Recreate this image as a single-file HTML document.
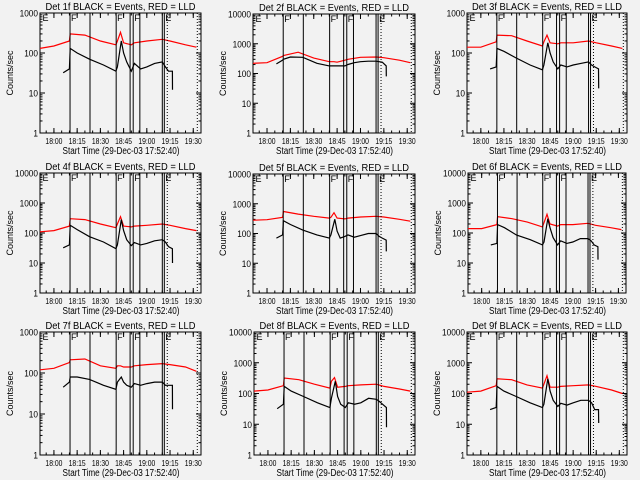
<!DOCTYPE html>
<html><head><meta charset="utf-8"><style>
html,body{margin:0;padding:0;background:#f2f2f2;}
svg{display:block;font-family:"Liberation Sans",sans-serif;}
</style></head><body>
<svg id="chart" width="640" height="480" viewBox="0 0 640 480" xmlns="http://www.w3.org/2000/svg">
<rect width="640" height="480" fill="#f2f2f2"/>
</svg>
<script>
const xTickMinutes = [0, 15, 30, 45, 60, 75, 90];
const xTickLabels = ["18:00", "18:15", "18:30", "18:45", "19:00", "19:15", "19:30"];
const solidLineTimes = [10.4, 23.3, 40.2, 49.2, 51.2, 55.5, 70, 71.3];
const dottedLineTimes = [73.2, 92.6];
const blackTimes = [6, 10, 10.5, 15, 23, 32, 40, 41, 43.5, 45, 47, 50, 52, 56, 60, 65, 70, 72, 74, 76.5, 76.6];
const redTimes = [-9, 0, 10, 10.5, 20, 30, 40, 41, 43, 45, 50, 52, 60, 70, 75, 85, 92];
const det1Black = [32,40,130,100,70,50,35,45,200,100,60,35,55,40,45,55,60,45,35,35,12];
const det1Red = [130,150,200,300,280,200,160,200,330,180,160,180,200,220,200,160,140];
const det2Black = [210,280,300,360,350,220,180,180,180,180,180,180,200,230,250,260,260,250,240,180,80];
const det2Red = [220,230,380,400,520,330,250,250,250,240,280,300,350,360,340,280,230];
const det3Black = [40,45,130,110,75,50,38,50,180,100,60,40,50,45,50,55,60,50,45,40,13];
const det3Red = [140,140,190,280,270,200,150,190,280,180,170,180,180,200,180,150,130];
const det4Black = [32,40,180,130,75,50,30,40,280,120,60,38,48,40,45,55,60,50,35,30,10];
const det4Red = [110,120,170,300,280,200,150,200,350,170,160,170,180,200,180,140,120];
const det5Black = [70,90,270,200,130,90,70,90,300,120,70,80,90,75,85,100,100,80,70,60,25];
const det5Red = [280,290,350,550,450,380,330,350,500,330,310,330,360,380,360,300,260];
const det6Black = [40,45,190,150,85,60,40,50,300,150,70,40,55,45,50,65,65,55,40,35,13];
const det6Red = [140,140,190,350,300,230,160,220,420,200,170,190,190,210,180,150,130];
const det7Black = [45,60,80,80,70,50,40,60,80,60,50,45,55,50,55,60,60,50,50,50,13];
const det7Red = [120,130,180,210,220,150,130,150,150,140,140,150,160,170,160,140,110];
const det8Black = [32,45,170,120,80,50,35,70,250,80,45,35,50,45,50,70,65,55,45,35,8];
const det8Red = [120,130,180,320,280,200,150,250,330,160,170,180,190,200,170,140,120];
const det9Black = [30,35,170,120,80,50,35,45,300,120,60,38,48,42,50,60,60,50,30,30,11];
const det9Red = [110,120,180,300,280,190,150,200,380,160,160,170,180,190,170,130,100];
const yMaxes = [1000,10000,1000,10000,10000,10000,1000,10000,10000];

const blacks=[det1Black,det2Black,det3Black,det4Black,det5Black,det6Black,det7Black,det8Black,det9Black];
const reds=[det1Red,det2Red,det3Red,det4Red,det5Red,det6Red,det7Red,det8Red,det9Red];
const boxes=[[40,13,201,133],[253,14,415,133],[467,13,627,133],
             [40,173,201,293],[253,174,415,293],[468,173,626,293],
             [40,332,201,455],[254,332,415,455],[467,332,627,455]];
const NS="http://www.w3.org/2000/svg";
const svg=document.getElementById('chart');
function mk(tag,attrs,parent){const e=document.createElementNS(NS,tag);for(const k in attrs)e.setAttribute(k,attrs[k]);(parent||svg).appendChild(e);return e;}
const T0=-9,T1=95;
boxes.forEach((b,i)=>{
  const [x0,y0,x1,y1]=b;
  const g=mk('g',{});
  
  
  const ymax=yMaxes[i];const dec=Math.log10(ymax);
  const xs=t=>x0+(t-T0)/(T1-T0)*(x1-x0);
  const ys=v=>y1-Math.log10(Math.max(v,1))/dec*(y1-y0);
  const frame=mk('rect',{x:x0,y:y0,width:x1-x0,height:y1-y0,fill:'none',stroke:'#000','stroke-width':1},g);
  
  
  for(let d=0;d<=dec;d++){
    const v=Math.pow(10,d);const y=ys(v);
    mk('line',{x1:x0,y1:y,x2:x0+5,y2:y,stroke:'#000'},g);
    mk('line',{x1:x1,y1:y,x2:x1-5,y2:y,stroke:'#000'},g);
    const s=String(v);
    const tl=mk('text',{x:x0-2,y:y+3.5,'font-size':9,'text-anchor':'end',fill:'#000',textLength:s.length*4.6,lengthAdjust:'spacingAndGlyphs'},g);
    tl.textContent=s;
    
    
    if(d<dec){for(let m=2;m<10;m++){const ym=ys(v*m);
      mk('line',{x1:x0,y1:ym,x2:x0+2.5,y2:ym,stroke:'#000'},g);
      mk('line',{x1:x1,y1:ym,x2:x1-2.5,y2:ym,stroke:'#000'},g);}}
  }
  xTickMinutes.forEach((t,k)=>{
    const x=xs(t);
    mk('line',{x1:x,y1:y1,x2:x,y2:y1-5,stroke:'#000'},g);
    mk('line',{x1:x,y1:y0,x2:x,y2:y0+5,stroke:'#000'},g);
    const tl=mk('text',{x:x-8.5,y:y1+11,'font-size':8.5,fill:'#000',textLength:17,lengthAdjust:'spacingAndGlyphs'},g);
    tl.textContent=xTickLabels[k];
    
    
  });
  for(let t=-5;t<95;t+=5){const x=xs(t);mk('line',{x1:x,y1:y1,x2:x,y2:y1-2.5,stroke:'#000'},g);mk('line',{x1:x,y1:y0,x2:x,y2:y0+2.5,stroke:'#000'},g);}
  const cx=(x0+x1)/2;
  const xt=mk('text',{x:cx-58,y:y1+21,'font-size':10,fill:'#000',textLength:117,lengthAdjust:'spacingAndGlyphs'},g);
  xt.textContent='Start Time (29-Dec-03 17:52:40)';
  
  
  const yt=mk('text',{x:0,y:0,'font-size':9,'text-anchor':'middle',fill:'#000',transform:`translate(${x0-27},${(y0+y1)/2}) rotate(-90)`},g);
  yt.textContent='Counts/sec';
  
  
  const tt=mk('text',{x:cx-75,y:y0-3,'font-size':10.5,fill:'#000',textLength:150,lengthAdjust:'spacingAndGlyphs'},g);
  tt.textContent='Det '+(i+1)+'f BLACK = Events, RED = LLD';
  
  
  [['E',T0+1],['F',solidLineTimes[0]],['F',solidLineTimes[2]],['F',solidLineTimes[4]],['E',solidLineTimes[7]]].forEach(m=>{
    const mt=mk('text',{x:xs(m[1])+1,y:y0+8,'font-size':9,fill:'#000'},g);
    mt.textContent=m[0];
    
    
  });
  const rp=redTimes.map((t,k)=>xs(t).toFixed(1)+','+ys(reds[i][k]).toFixed(1)).join(' ');
  const rl=mk('polyline',{points:rp,fill:'none',stroke:'#ff0000','stroke-width':1.2},g);
  
  
  const bp=blackTimes.map((t,k)=>xs(t).toFixed(1)+','+ys(blacks[i][k]).toFixed(1)).join(' ');
  const bl=mk('polyline',{points:bp,fill:'none',stroke:'#000','stroke-width':1.2},g);
  
  
  solidLineTimes.forEach(t=>{const l=mk('line',{x1:xs(t),y1:y0,x2:xs(t),y2:y1,stroke:'#000','stroke-width':1},g);
    
    });
  dottedLineTimes.forEach(t=>{const l=mk('line',{x1:xs(t),y1:y0,x2:xs(t),y2:y1,stroke:'#000','stroke-width':1,'stroke-dasharray':'1,2'},g);
    
    });
});
</script>
</body></html>
